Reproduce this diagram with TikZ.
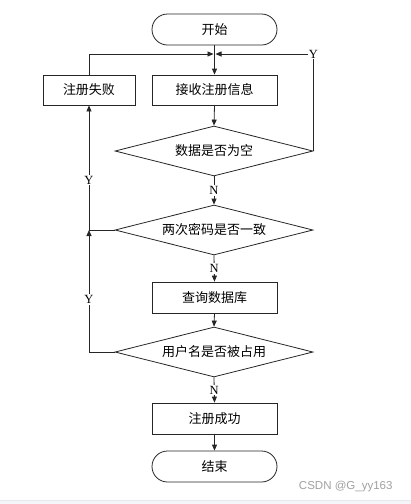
\documentclass[tikz,border=0pt]{standalone}
\usepackage{fontspec}
\setmainfont{Liberation Serif}
\newfontfamily\cjk{Noto Sans CJK SC}
\newfontfamily\wmfont{Liberation Sans}
\usetikzlibrary{shapes.geometric,shapes.misc,arrows.meta}
\definecolor{wm}{HTML}{A0A0A0}
\definecolor{barc}{HTML}{F4F5F8}
\definecolor{barl}{HTML}{E6E8EE}
\tikzset{
  flow/.style={line width=0.8pt, draw=black!85},
  term/.style={flow, rounded rectangle, minimum width=125pt, minimum height=31pt, inner sep=0pt, font=\cjk\fontsize{13}{15}\selectfont},
  proc/.style={flow, rectangle, minimum height=30pt, inner sep=0pt, font=\cjk\fontsize{13}{15}\selectfont},
  dec/.style={flow, diamond, shape aspect=4, minimum width=198pt, minimum height=50pt, inner sep=0pt, font=\cjk\fontsize{13}{15}\selectfont},
  arr/.style={flow, -{Triangle[length=6pt,width=5pt]}},
  ln/.style={flow},
  lab/.style={fill=white, inner sep=1pt, font=\fontsize{12.5}{13}\selectfont}
}
\begin{document}
\begin{tikzpicture}[x=1pt,y=-1pt]
\useasboundingbox (0,0) rectangle (411,504);
\fill[barc] (0,500) rectangle (411,504);
\draw[barl, line width=0.6pt] (0,500) -- (411,500);

\node[term] (start) at (214.5,29.5) {开始};
\coordinate (j) at (214.5,54);
\node[proc, minimum width=92pt] (fail) at (89,90) {注册失败};
\node[proc, minimum width=125pt] (recv) at (214.5,90) {接收注册信息};
\node[dec] (d1) at (214,151) {数据是否为空};
\node[dec] (d2) at (214,230) {两次密码是否一致};
\node[proc, minimum width=125pt, minimum height=31pt] (query) at (214.5,297.5) {查询数据库};
\node[dec] (d3) at (214,352) {用户名是否被占用};
\node[proc, minimum width=125pt, minimum height=31pt] (succ) at (214.5,418.5) {注册成功};
\node[term] (end) at (214.5,466.5) {结束};
\coordinate (k) at (fail.south |- d2.west);
\coordinate (c3) at (fail.south |- d3.west);
\coordinate (c1) at (d1.east |- j);

% main flow
\draw[arr] (start.south) -- (recv.north);
\draw[arr] (recv.south) -- (d1.north);
\draw[arr] (d1.south) -- node[lab] {N} (d2.north);
\draw[arr] (d2.south) -- node[lab] {N} (query.north);
\draw[arr] (query.south) -- (d3.north);
\draw[arr] (d3.south) -- node[lab] {N} (succ.north);
\draw[arr] (succ.south) -- (end.north);

% loops
\draw[arr] (fail.north) |- ([xshift=-1pt]j);
\draw[arr] (d1.east) -- (c1) -- ([xshift=1pt]j);
\node[lab] (y1) at (c1) {Y};
\draw[arr] (d3.west) -- (c3) -- node[lab,pos=0.43] {Y} (k);
\draw[ln] (d2.west) -- (k);
\draw[arr] (k) -- node[lab,pos=0.4] {Y} (fail.south);

\node[wm, font=\wmfont\fontsize{11.5}{13}\selectfont, anchor=east] (wmk) at (396,487) {CSDN @G\_yy163};
\end{tikzpicture}
\end{document}
